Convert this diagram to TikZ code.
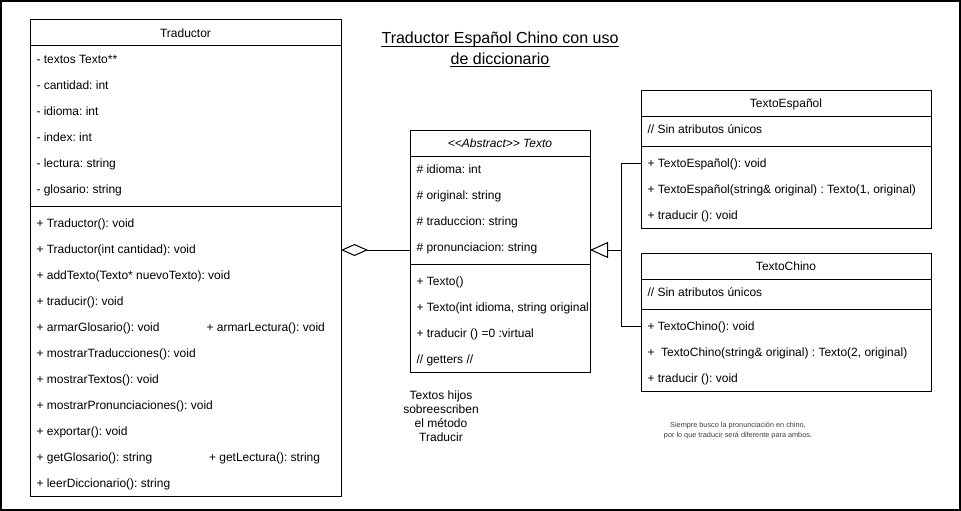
\documentclass[tikz,border=0pt]{standalone}
\usepackage{fontspec}
\setmainfont{Liberation Sans}
\usetikzlibrary{arrows.meta}
\frenchspacing
\begin{document}
\begin{tikzpicture}[x=1pt,y=-1pt,line width=1pt,
  font=\fontsize{12}{14}\selectfont\frenchspacing,
  box/.style={draw,line width=1pt,anchor=north west,inner sep=0pt,outer sep=0pt},
  row/.style={anchor=base west,inner sep=0pt},
  head/.style={anchor=base,inner sep=0pt},
  agg/.style={-{Diamond[open,length=27pt 0,width=12pt 0]}},
  inh/.style={-{Triangle[open,length=18pt 0,width=16pt 0]}}]
\useasboundingbox (0,0) rectangle (961,511);
\draw[line width=2pt] (1,1) rectangle (960,510);
% title
\node[head,font=\fontsize{16}{19}\selectfont] (ti1) at (500,44) {Traductor Español Chino con uso};
\node[head,font=\fontsize{16}{19}\selectfont] (ti2) at (500,64) {de diccionario};
\draw ([yshift=-2.5pt]ti1.base west) -- ([yshift=-2.5pt]ti1.base east);
\draw ([yshift=-2.5pt]ti2.base west) -- ([yshift=-2.5pt]ti2.base east);
% Traductor
\node[box,minimum width=311pt,minimum height=476pt] (trad) at (30,20) {};
\draw (30,46) -- (341,46);
\draw (30,206) -- (341,206);
\node[head] (tradh) at (185.5,37.8) {Traductor};
\foreach \t [count=\i] in {{- textos Texto**},{- cantidad: int},{- idioma: int},{- index: int},{- lectura: string},{- glosario: string}}
  \node[row] (tra\i) at (36,{33+26*\i+4.8}) {\t};
\foreach \t [count=\i] in {{+ Traductor(): void},{+ Traductor(int cantidad): void},{+ addTexto(Texto* nuevoTexto): void},{+ traducir(): void},{+ armarGlosario(): void},{+ mostrarTraducciones(): void},{+ mostrarTextos(): void},{+ mostrarPronunciaciones(): void},{+ exportar(): void},{+ getGlosario(): string},{+ leerDiccionario(): string}}
  \node[row] (trm\i) at (36,{197+26*\i+4.8}) {\t};
\node[row] (trmb5) at (206,331.8) {+ armarLectura(): void};
\node[row] (trmb10) at (208.5,461.8) {+ getLectura(): string};
% Texto
\node[box,minimum width=180pt,minimum height=242pt] (texto) at (410,130) {};
\draw (410,156) -- (590,156);
\draw (410,264) -- (590,264);
\node[head] (textoh) at (500,147.8) {\textit{<{}<Abstract>{}> Texto}};
\foreach \t [count=\i] in {{\# idioma: int},{\# original: string},{\# traduccion: string},{\# pronunciacion: string}}
  \node[row] (tea\i) at (416,{143+26*\i+4.8}) {\t};
\foreach \t [count=\i] in {{+ Texto()},{+ Texto(int idioma, string original},{+ traducir () =0 :virtual},{// getters //}}
  \node[row] (tem\i) at (416,{255+26*\i+4.8}) {\t};
% TextoEspañol
\node[box,minimum width=290pt,minimum height=138pt] (tesp) at (641,90) {};
\draw (641,116) -- (931,116);
\draw (641,146) -- (931,146);
\node[head] (tesph) at (786,107.8) {TextoEspañol};
\node[row] (tespa1) at (647,133.8) {// Sin atributos únicos};
\foreach \t [count=\i] in {{+ TextoEspañol(): void},{+ TextoEspañol(string\& original) : Texto(1, original)},{+ traducir (): void}}
  \node[row] (tespm\i) at (647,{137+26*\i+4.8}) {\t};
% TextoChino
\node[box,minimum width=290pt,minimum height=138pt] (tchi) at (641,253) {};
\draw (641,279) -- (931,279);
\draw (641,309) -- (931,309);
\node[head] (tchih) at (786,270.8) {TextoChino};
\node[row] (tchia1) at (647,296.8) {// Sin atributos únicos};
\foreach \t [count=\i] in {{+ TextoChino(): void},{+\ \ TextoChino(string\& original) : Texto(2, original)},{+ traducir (): void}}
  \node[row] (tchim\i) at (647,{300+26*\i+4.8}) {\t};
% notes
\node[align=center,inner sep=0pt] (nota) at (441,416.5) {Textos hijos\\sobreescriben\\el método\\Traducir};
\node[align=center,inner sep=0pt,font=\fontsize{7.3}{10}\selectfont\frenchspacing,text={rgb,255:red,60;green,60;blue,60}] (nota2) at (738,431) {Siempre busco la pronunciación en chino,\\por lo que traducir será diferente para ambos.};
% connectors
\coordinate (aggT) at (341,250);
\coordinate (aggS) at (410,250);
\draw[agg] (aggS) -- (aggT);
\coordinate (inhT) at (590,250);
\coordinate (junc) at (621,250);
\coordinate (espIn) at (641,163);
\coordinate (chiIn) at (641,326);
\draw[inh] (espIn) -| (junc) -- (inhT);
\draw (chiIn) -| (junc);
\end{tikzpicture}
\end{document}
